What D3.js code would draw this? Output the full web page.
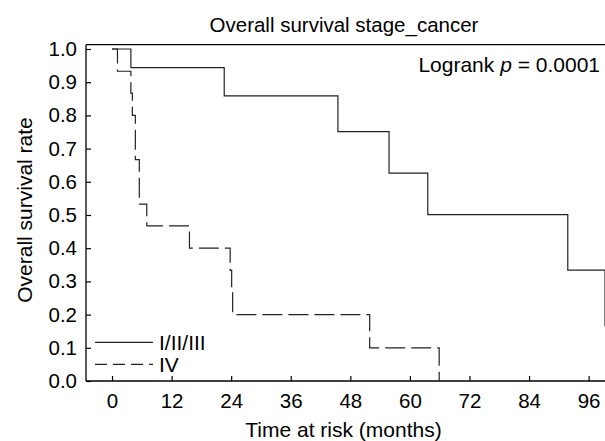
<!DOCTYPE html>
<html><head><meta charset="utf-8">
<script src="https://cdn.jsdelivr.net/npm/d3@7"></script>
<style>
body{margin:0;background:#fff;}
svg{display:block;font-family:"Liberation Sans",Arial,sans-serif;}
</style></head>
<body><svg id="c" width="605" height="441"></svg>
<script>
// Data
const stageI_time = [0, 3.8, 22.6, 45.5, 55.8, 63.6, 91.8, 99.3, 101];
const stageI_surv = [1.0, 0.944, 0.859, 0.751, 0.626, 0.501, 0.334, 0.167, 0.167];
const stageIV_time = [0, 1.1, 3.8, 4.1, 4.7, 5.5, 7.0, 15.6, 23.8, 24.1, 24.3, 51.9, 65.9];
const stageIV_surv = [1.0, 0.933, 0.867, 0.8, 0.667, 0.533, 0.467, 0.4, 0.333, 0.267, 0.2, 0.1, 0.0];
const xTicks = [0, 12, 24, 36, 48, 60, 72, 84, 96];
const yTicks = [0, 0.1, 0.2, 0.3, 0.4, 0.5, 0.6, 0.7, 0.8, 0.9, 1.0];
const seriesNames = ["I/II/III", "IV"];

const svg = d3.select("#c");
const pL = 86, pR = 606, pT = 44.7, pB = 381;
const x = d3.scaleLinear().domain([-5.24, 99.5]).range([pL, pR]);
const y = d3.scaleLinear().domain([0, 1.0]).range([pB, 49]);

svg.append("defs").append("clipPath").attr("id","clip")
  .append("rect").attr("x", pL).attr("y", pT).attr("width", pR-pL).attr("height", pB-pT);

// frame
svg.append("line").attr("x1",pL).attr("x2",605).attr("y1",pT).attr("y2",pT)
  .attr("stroke","#000").attr("stroke-width",1.3);

const fs = 20.5, fsT = 21;
const yAxis = svg.append("g").attr("transform",`translate(${pL},0)`)
  .call(d3.axisLeft(y).tickValues(yTicks).tickFormat(d3.format(".1f")).tickSize(-5).tickPadding(9));
const xAxis = svg.append("g").attr("transform",`translate(0,${pB})`)
  .call(d3.axisBottom(x).tickValues(xTicks).tickSize(-5).tickPadding(12));
[xAxis,yAxis].forEach(g=>{
  g.selectAll("text").attr("font-size",fs).attr("fill","#000").attr("font-family",'"Liberation Sans",Arial,sans-serif');
  g.selectAll("line").attr("stroke","#000").attr("stroke-width",1.2);
  g.select(".domain").attr("stroke","#000").attr("stroke-width",1.3);
});
yAxis.select(".domain").attr("d",`M0,${pT}V${pB}`);
xAxis.select(".domain").attr("d",`M${pL},0H605`);

const line = d3.line().x(d=>x(d[0])).y(d=>y(d[1])).curve(d3.curveStepAfter);
const s1 = stageI_time.map((t,i)=>[t, stageI_surv[i]]);
const s2 = stageIV_time.map((t,i)=>[t, stageIV_surv[i]]);
const g = svg.append("g").attr("clip-path","url(#clip)");
g.append("path").attr("d", line(s1)).attr("fill","none").attr("stroke","#222").attr("stroke-width",1.2);
g.append("path").attr("d", line(s2)).attr("fill","none").attr("stroke","#222").attr("stroke-width",1.2)
  .attr("stroke-dasharray","20,6");

// title & labels
svg.append("text").attr("x",344).attr("y",32).attr("text-anchor","middle").attr("font-size",fs)
  .text("Overall survival stage_cancer");
const lg = svg.append("text").attr("x",600).attr("y",72).attr("text-anchor","end").attr("font-size",fsT);
lg.append("tspan").text("Logrank ");
lg.append("tspan").attr("font-style","italic").text("p");
lg.append("tspan").text(" = 0.0001");
svg.append("text").attr("x",343.5).attr("y",437).attr("text-anchor","middle").attr("font-size",fsT)
  .text("Time at risk (months)");
svg.append("text").attr("transform","translate(32,210) rotate(-90)").attr("text-anchor","middle").attr("font-size",fsT)
  .text("Overall survival rate");

// legend
const legY = [342.3, 364.3];
const dashes = [null, "12,6"];
seriesNames.forEach((n,i)=>{
  svg.append("line").attr("x1",95).attr("x2",153).attr("y1",legY[i]).attr("y2",legY[i])
    .attr("stroke","#222").attr("stroke-width",1.2).attr("stroke-dasharray",dashes[i]);
  svg.append("text").attr("x",159).attr("y",legY[i]+7.5).attr("font-size",fsT).text(n);
});
</script></body></html>
